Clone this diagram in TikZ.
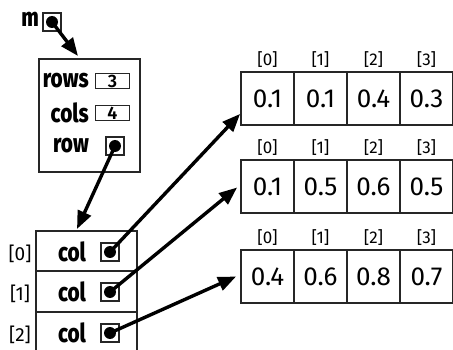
\documentclass[tikz,border=0pt]{standalone}
\usepackage{fontspec}
\setmainfont{Fira Sans}
\newfontfamily\lblfont[FakeStretch=0.8]{Fira Sans ExtraBold}
\newfontfamily\numfont{Fira Sans SemiBold}
\usetikzlibrary{arrows.meta,calc}
\begin{document}
\begin{tikzpicture}[x=1pt,y=-1pt,
  datacell/.style={draw=black!85,line width=1.8pt,minimum width=53pt,minimum height=53pt,inner sep=0pt,font=\fontsize{26}{26}\selectfont},
  idx/.style={font=\fontsize{17}{17}\selectfont,inner sep=0pt},
  lidx/.style={font=\fontsize{19}{19}\selectfont,inner sep=0pt},
  lbl/.style={font=\lblfont\fontsize{26}{26}\selectfont,inner sep=0pt},
  smallbox/.style={draw=black!85,line width=1.3pt,minimum width=34pt,minimum height=15pt,inner sep=0pt,font=\numfont\fontsize{18}{18}\selectfont},
  ptrbox/.style={draw=black!85,line width=1.5pt,minimum width=18pt,minimum height=18pt,inner sep=0pt},
  dot/.style={circle,fill=black,minimum size=12pt,inner sep=0pt},
  ptr/.style={line width=3.4pt,-{Triangle[length=18pt,width=14pt]},shorten <=-1pt}
]
\useasboundingbox (0,0) rectangle (453,350);

% m
\node[lbl,anchor=east] (mlbl) at (39,19) {m};
\node[ptrbox] (mbox) at (52,22) {};
\node[dot] (mdot) at (mbox.center) {};

% struct
\draw[line width=2.4pt,draw=black!85] (39,59) rectangle (140,172);
\coordinate (structtop) at (78,56);
\node[lbl,anchor=east] (rowslbl) at (89,81) {rows};
\node[smallbox] (rowsbox) at (112.5,81) {3};
\node[lbl,anchor=east] (colslbl) at (89,113) {cols};
\node[smallbox] (colsbox) at (112.5,113) {4};
\node[lbl,anchor=east] (rowlbl) at (89,146) {row};
\node[ptrbox] (rowbox) at (115,146) {};
\node[dot] (rowdot) at (rowbox.center) {};

% row array
\draw[line width=1.4pt,draw=black!85] (36,352) -- (36,231) -- (137,231) -- (137,352);
\draw[line width=1.4pt,draw=black!85] (36,271) -- (137,271);
\draw[line width=1.4pt,draw=black!85] (36,312) -- (137,312);
\coordinate (arrtop) at (77,229);
\foreach \i/\y in {0/252,1/292,2/333}{
  \node[lidx] (ri\i) at (20,\y+2) {[\i]};
  \node[lbl] (rc\i) at (72,\y) {col};
  \node[ptrbox] (cb\i) at (110,\y) {};
  \node[dot] (cd\i) at (cb\i.center) {};
}

% data arrays
\foreach \r/\y/\a/\b/\c/\d in {1/98.5/0.1/0.1/0.4/0.3, 2/186.5/0.1/0.5/0.6/0.5, 3/276.5/0.4/0.6/0.8/0.7}{
  \node[datacell] (a\r c0) at (267.5,\y) {\a};
  \node[datacell] (a\r c1) at (320.5,\y) {\b};
  \node[datacell] (a\r c2) at (373.5,\y) {\c};
  \node[datacell] (a\r c3) at (426.5,\y) {\d};
  \foreach \k in {0,1,2,3}{
    \node[idx] (t\r\k) at ($(a\r c\k.north)+(0,-12)$) {[\k]};
  }
}
\coordinate (tip1) at ($(a1c0.south west)+(0,-12)$);
\coordinate (tip2) at ($(a2c0.west)+(-3,1)$);
\coordinate (tip3) at ($(a3c0.west)+(-4,0)$);

% pointers
\draw[ptr] (mdot.center) -- (structtop);
\draw[ptr] (rowdot.center) -- (arrtop);
\draw[ptr] (cd0.center) -- (tip1);
\draw[ptr] (cd1.center) -- (tip2);
\draw[ptr] (cd2.center) -- (tip3);
\end{tikzpicture}
\end{document}
